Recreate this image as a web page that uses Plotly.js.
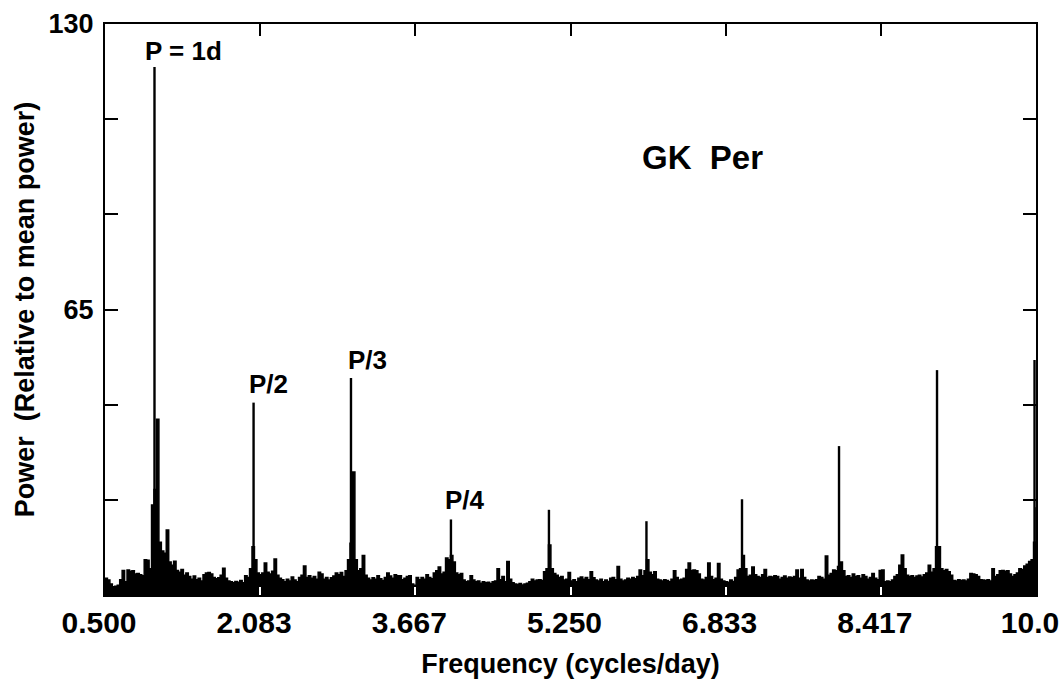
<!DOCTYPE html>
<html>
<head>
<meta charset="utf-8">
<script src="https://cdn.plot.ly/plotly-3.0.1.min.js"></script>
<style>
  html, body { margin: 0; padding: 0; background: #ffffff; }
  #chart { width: 1060px; height: 681px; }
</style>
</head>
<body>
<div id="chart"></div>
<script>
// Power spectrum of GK Per: noise floor sampled every 0.025 cycles/day from 0.5 to 10.0
const freqStart = 0.5;
const freqStep = 0.025;
const noisePower = [
  // 0.500 - 0.975
  3.8, 3.4, 2.5, 1.9, 2.0, 2.2, 3.5, 5.6, 3.0, 5.7, 5.4, 5.5, 4.8, 4.9, 4.6, 4.4, 8.0, 7.9, 6.0, 20.5,
  // 1.000 - 1.475
  24.0, 40.0, 12.0, 10.0, 9.5, 14.8, 7.5, 6.8, 7.7, 5.6, 5.2, 5.8, 4.5, 5.0, 4.2, 3.6, 4.3, 3.5, 3.8, 3.2,
  // 1.500 - 1.975
  4.6, 5.0, 5.1, 4.8, 4.0, 3.7, 3.9, 4.5, 6.1, 3.8, 3.2, 3.0, 2.8, 3.1, 2.9, 3.3, 2.8, 4.4, 4.0, 6.0,
  // 2.000 - 2.475
  11.0, 8.0, 5.0, 4.6, 5.0, 7.3, 5.2, 4.8, 5.4, 8.2, 4.5, 3.8, 3.5, 3.0, 3.6, 3.2, 4.1, 3.4, 3.0, 4.0,
  // 2.500 - 2.975
  4.5, 6.6, 4.0, 4.4, 3.8, 4.2, 3.6, 5.2, 4.8, 3.6, 4.0, 3.4, 3.9, 4.3, 5.0, 4.6, 5.1, 4.2, 5.5, 8.0,
  // 3.000 - 3.475
  11.8, 28.0, 8.0, 5.5, 6.0, 9.0, 4.5, 3.8, 3.4, 3.9, 3.6, 4.4, 3.7, 3.3, 4.0, 5.0, 4.3, 3.8, 4.6, 4.4,
  // 3.500 - 3.975
  4.4, 3.5, 3.8, 4.2, 4.4, 2.5, 2.2, 4.0, 3.5, 4.0, 3.6, 4.6, 4.0, 3.7, 5.0, 5.5, 6.4, 4.8, 5.2, 8.4,
  // 4.000 - 4.475
  8.0, 9.0, 7.5, 5.0, 4.6, 4.9, 3.4, 3.0, 3.2, 4.4, 3.4, 3.0, 3.2, 2.7, 3.0, 2.8, 2.9, 2.6, 3.0, 3.2,
  // 4.500 - 4.975
  6.0, 3.5, 4.2, 3.0, 7.6, 3.6, 2.8, 2.5, 2.4, 2.6, 2.3, 2.5, 2.7, 3.0, 3.6, 3.2, 3.4, 3.5, 3.3, 5.3,
  // 5.000 - 5.475
  6.0, 11.4, 6.0, 4.9, 4.5, 4.0, 4.2, 3.4, 3.6, 5.1, 3.2, 3.5, 3.0, 3.8, 4.1, 3.6, 4.0, 3.5, 5.3, 3.9,
  // 5.500 - 5.975
  3.4, 3.2, 3.6, 3.0, 3.4, 3.1, 3.8, 4.0, 3.5, 6.5, 3.6, 3.2, 3.4, 3.8, 3.6, 4.0, 3.7, 4.2, 5.7, 4.4,
  // 6.000 - 6.475
  5.5, 8.0, 5.2, 4.6, 5.3, 3.6, 3.4, 3.2, 3.5, 3.3, 3.0, 3.6, 5.5, 4.0, 3.4, 3.6, 3.8, 5.8, 7.3, 5.6,
  // 6.500 - 6.975
  5.7, 5.5, 4.8, 3.6, 3.4, 4.0, 7.3, 4.2, 3.5, 3.8, 7.2, 3.6, 3.2, 3.0, 2.9, 3.4, 3.1, 4.0, 5.7, 6.0,
  // 7.000 - 7.475
  9.0, 6.0, 4.2, 4.5, 6.4, 4.6, 4.2, 4.0, 4.6, 5.8, 4.0, 4.2, 4.1, 4.4, 4.2, 3.6, 4.0, 4.3, 3.8, 4.1,
  // 7.500 - 7.975
  3.9, 4.2, 5.7, 3.8, 5.8, 4.0, 3.4, 3.2, 3.4, 3.3, 3.5, 4.2, 4.0, 3.6, 8.9, 4.5, 4.9, 5.7, 5.5, 6.5,
  // 8.000 - 8.475
  7.5, 5.5, 4.2, 4.4, 4.0, 4.8, 4.2, 4.4, 3.8, 4.6, 4.2, 3.6, 4.0, 4.9, 3.8, 3.5, 5.6, 5.7, 3.0, 3.2,
  // 8.500 - 8.975
  3.0, 3.4, 4.2, 4.6, 6.8, 9.1, 6.0, 4.5, 4.2, 4.4, 4.0, 4.3, 4.5, 4.1, 4.6, 5.0, 6.8, 5.2, 6.0, 11.0,
  // 9.000 - 9.475
  11.0, 6.0, 5.5, 5.8, 5.3, 4.5, 3.3, 3.2, 3.5, 3.3, 3.4, 3.2, 3.6, 4.9, 4.8, 4.6, 4.2, 3.5, 3.4, 3.3,
  // 9.500 - 10.000
  3.5, 3.2, 6.0, 4.2, 4.6, 5.5, 5.6, 5.4, 5.5, 4.8, 4.2, 4.6, 5.0, 6.0, 5.8, 6.6, 7.0, 7.6, 8.0, 12.0, 20.0
];

// Narrow spectral peaks (fundamental near 1 c/d and its harmonics)
const peakFreq  = [1.005, 2.016, 3.010, 4.030, 5.030, 6.025, 7.000, 7.990, 8.990, 9.985];
const peakPower = [120.2, 43.8, 49.4, 17.2, 19.4, 16.8, 21.8, 33.9, 51.2, 53.5];

// Axis ticks
const xTickVals = [0.5, 2.083, 3.667, 5.25, 6.833, 8.417, 10.0];
const xTickText = ['0.500', '2.083', '3.667', '5.250', '6.833', '8.417', '10.0'];
const yTickVals = [21.667, 43.333, 65, 86.667, 108.333, 130];
const yTickText = ['', '', '65', '', '', '130'];

// Peak labels
const labelText = ['P = 1d', 'P/2', 'P/3', 'P/4'];
const labelFreq = [0.89, 2.17, 3.18, 4.17];
const labelPower = [123.9, 48.0, 53.5, 21.6];

const noiseFreq = noisePower.map((_, i) => +(freqStart + i * freqStep).toFixed(3));

const spikeX = [], spikeY = [];
peakFreq.forEach((f, i) => {
  spikeX.push(f, f, null);
  spikeY.push(0, peakPower[i], null);
});

const FONT = 'Liberation Sans, Arial, Helvetica, sans-serif';

const traces = [
  {
    x: noiseFreq, y: noisePower, type: 'scatter', mode: 'lines',
    fill: 'tozeroy', fillcolor: '#000000',
    line: { color: '#000000', width: 1.5, shape: 'hv' },
    hoverinfo: 'skip', showlegend: false
  },
  {
    x: spikeX, y: spikeY, type: 'scatter', mode: 'lines',
    line: { color: '#000000', width: 2.4 },
    hoverinfo: 'skip', showlegend: false
  },
  {
    // carries the top frequency axis
    x: [null], y: [null], xaxis: 'x2', yaxis: 'y', type: 'scatter', mode: 'lines',
    hoverinfo: 'skip', showlegend: false
  }
];

const annotations = labelText.map((t, i) => ({
  x: labelFreq[i], y: labelPower[i], xref: 'x', yref: 'y',
  text: t, showarrow: false,
  xanchor: i === 0 ? 'left' : 'center', yanchor: 'middle',
  font: { family: FONT, size: 26, color: '#000000', weight: 'bold' }
}));
annotations.push({
  x: 6.6, y: 99.7, xref: 'x', yref: 'y',
  text: 'GK\u00a0\u00a0Per', showarrow: false,
  xanchor: 'center', yanchor: 'middle',
  font: { family: FONT, size: 33, color: '#000000', weight: 'bold' }
});

const layout = {
  width: 1060, height: 681,
  margin: { l: 105, r: 24, t: 24, b: 86, pad: 0 },
  paper_bgcolor: '#ffffff', plot_bgcolor: '#ffffff',
  showlegend: false,
  font: { family: FONT, color: '#000000', weight: 'bold' },
  xaxis: {
    range: [0.5, 10.0], tickmode: 'array', tickvals: xTickVals, ticktext: xTickText,
    ticks: 'inside', ticklen: 8, tickwidth: 2, tickcolor: '#ffffff',
    showline: true, linecolor: '#000000', linewidth: 2, mirror: true,
    showgrid: false, zeroline: false,
    tickfont: { family: FONT, size: 30, color: '#000000', weight: 'bold' },
    ticklabelshift: -6, ticklabelstandoff: 0,
    title: { text: 'Frequency (cycles/day)', standoff: 16,
             font: { family: FONT, size: 27, color: '#000000', weight: 'bold' } },
    fixedrange: true
  },
  xaxis2: {
    overlaying: 'x', side: 'top', anchor: 'y', matches: 'x',
    range: [0.5, 10.0], tickmode: 'array', tickvals: xTickVals,
    ticks: 'inside', ticklen: 12, tickwidth: 2, tickcolor: '#000000',
    showticklabels: false, showline: false, showgrid: false, zeroline: false,
    fixedrange: true
  },
  yaxis: {
    range: [0, 130], tickmode: 'array', tickvals: yTickVals, ticktext: yTickText,
    ticks: 'inside', ticklen: 13, tickwidth: 2, tickcolor: '#000000',
    showline: true, linecolor: '#000000', linewidth: 2, mirror: 'ticks',
    showgrid: false, zeroline: false,
    tickfont: { family: FONT, size: 27, color: '#000000', weight: 'bold' },
    ticklabelstandoff: 4,
    title: { text: 'Power\u00a0\u00a0(Relative to mean power)', standoff: 6,
             font: { family: FONT, size: 27, color: '#000000', weight: 'bold' } },
    fixedrange: true
  },
  annotations: annotations
};

Plotly.newPlot('chart', traces, layout, { staticPlot: true, displayModeBar: false });
</script>
</body>
</html>
